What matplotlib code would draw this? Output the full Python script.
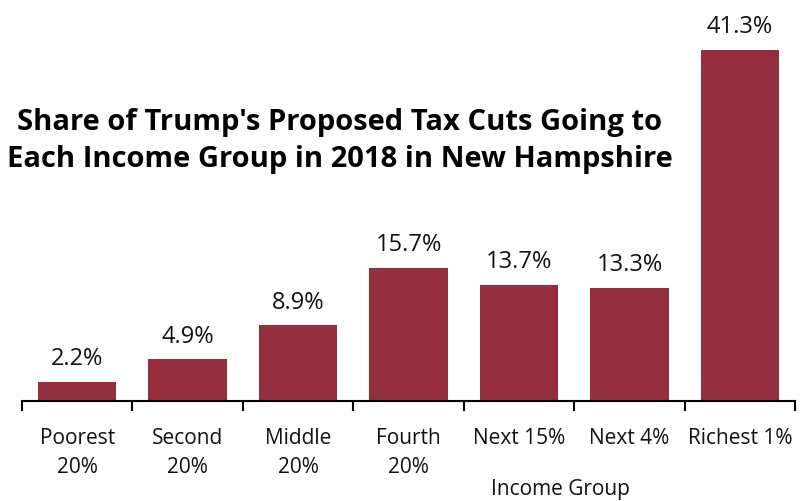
import matplotlib.pyplot as plt

groups = ["Poorest\n20%", "Second\n20%", "Middle\n20%", "Fourth\n20%",
          "Next 15%", "Next 4%", "Richest 1%"]
shares = [2.2, 4.9, 8.9, 15.7, 13.7, 13.3, 41.3]
labels = ["2.2%", "4.9%", "8.9%", "15.7%", "13.7%", "13.3%", "41.3%"]

plt.rcParams['font.family'] = ['Open Sans', 'DejaVu Sans']

fig = plt.figure(figsize=(8.07, 5.02), dpi=100)
ax = fig.add_axes([0.0273, 0.199, 0.958, 0.791])

x = range(len(groups))
bars = ax.bar(x, shares, width=0.71, color="#952e3d")
for b, lab in zip(bars, labels):
    ax.text(b.get_x() + b.get_width() / 2, b.get_height() + 1.4, lab,
            ha="center", va="bottom", fontsize=17, color="#111111")

ax.set_xlim(-0.5, len(groups) - 0.5)
ax.set_ylim(0, 46.7)
ax.set_xticks(list(x))
ax.set_xticklabels(groups, fontsize=15, linespacing=1.5, color="#111111")
ax.tick_params(axis="x", which="major", length=0, pad=19)
ax.set_xticks([i - 0.5 for i in range(len(groups) + 1)], minor=True)
ax.tick_params(axis="x", which="minor", length=7, width=1.5)
ax.set_yticks([])
for s in ["top", "right", "left"]:
    ax.spines[s].set_visible(False)
ax.spines["bottom"].set_linewidth(1.5)

fig.text(0.694, 0.024, "Income Group", ha="center", va="center",
         fontsize=15, color="#111111")
fig.text(0.421, 0.719, "Share of Trump's Proposed Tax Cuts Going to\nEach Income Group in 2018 in New Hampshire",
         ha="center", va="center", fontsize=21, fontweight="bold", linespacing=1.4)

fig.savefig("out.png", dpi=100)
